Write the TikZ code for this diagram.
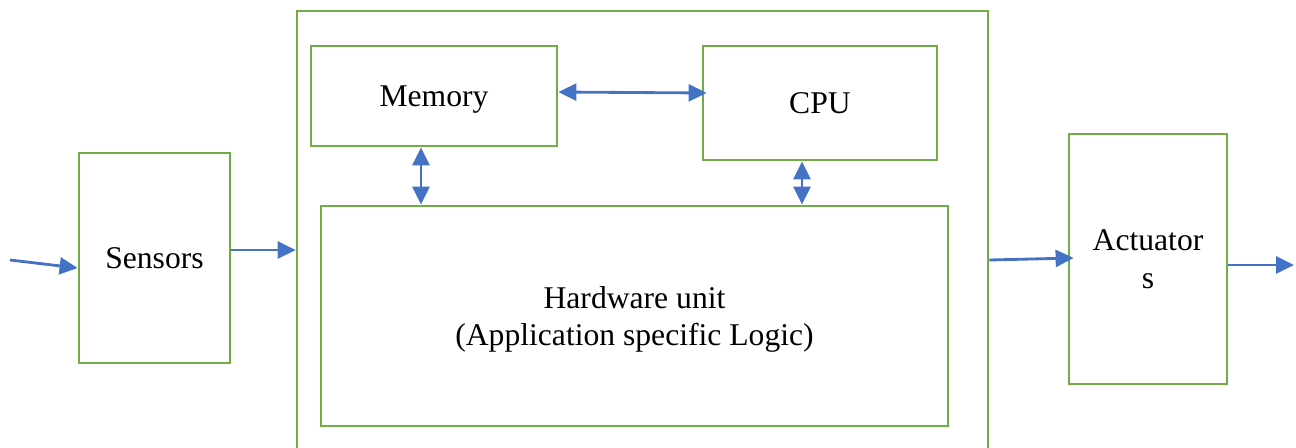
\documentclass[tikz,border=0pt]{standalone}
\usepackage{fontspec}
\setmainfont{Liberation Serif}
\usetikzlibrary{arrows.meta}
\definecolor{boxgreen}{HTML}{70AD47}
\definecolor{linkblue}{HTML}{4472C4}
\tikzset{
  unit/.style={draw=boxgreen, line width=1.6pt, inner sep=0pt, align=center,
    text depth=0pt, font=\fontsize{18}{21.6}\selectfont},
  arr/.style={draw=linkblue, line width=1.6pt, -{Triangle[length=0.36cm,width=0.34cm]}},
  biarr/.style={draw=linkblue, line width=1.6pt,
    {Triangle[length=0.36cm,width=0.34cm]}-{Triangle[length=0.36cm,width=0.34cm]}}
}
\begin{document}
\begin{tikzpicture}[x=0.02cm, y=-0.02cm]
  \useasboundingbox (0,0) rectangle (1296,447);
  \clip (0,0) rectangle (1296,447);
  % outer embedded-system frame (open at the bottom edge)
  \node[unit, minimum width=13.82cm, minimum height=9.4cm] (outer) at (642.5,246) {};
  % blocks
  \node[unit, minimum width=3.02cm, minimum height=4.2cm] (sensors) at (154.5,258) {Sensors};
  \node[unit, minimum width=4.92cm, minimum height=2.0cm] (memory) at (434,96) {Memory};
  \node[unit, minimum width=4.68cm, minimum height=2.28cm] (cpu) at (820,103) {CPU};
  \node[unit, minimum width=12.54cm, minimum height=4.4cm] (hw) at (634.5,316)
    {Hardware unit\\(Application specific Logic)};
  \node[unit, minimum width=3.16cm, minimum height=5.0cm] (act) at (1148,259) {Actuator\\s};
  % connectors
  \coordinate (in) at (10,260);
  \coordinate (out) at (1294,265);
  \draw[arr] (in) -- (sensors.west |- 0,268);
  \draw[arr] (sensors.east |- 0,250) -- (outer.west |- 0,250);
  \draw[biarr] (memory.east |- 0,92) -- ([xshift=0.1cm]cpu.west |- 0,93);
  \draw[biarr] (memory.south -| 421,0) -- (hw.north -| 421,0);
  \draw[biarr] (cpu.south -| 802,0) -- (hw.north -| 802,0);
  \draw[arr] (outer.east |- 0,260) -- ([xshift=0.12cm]act.west |- 0,258);
  \draw[arr] (act.east |- 0,265) -- (out);
\end{tikzpicture}
\end{document}
